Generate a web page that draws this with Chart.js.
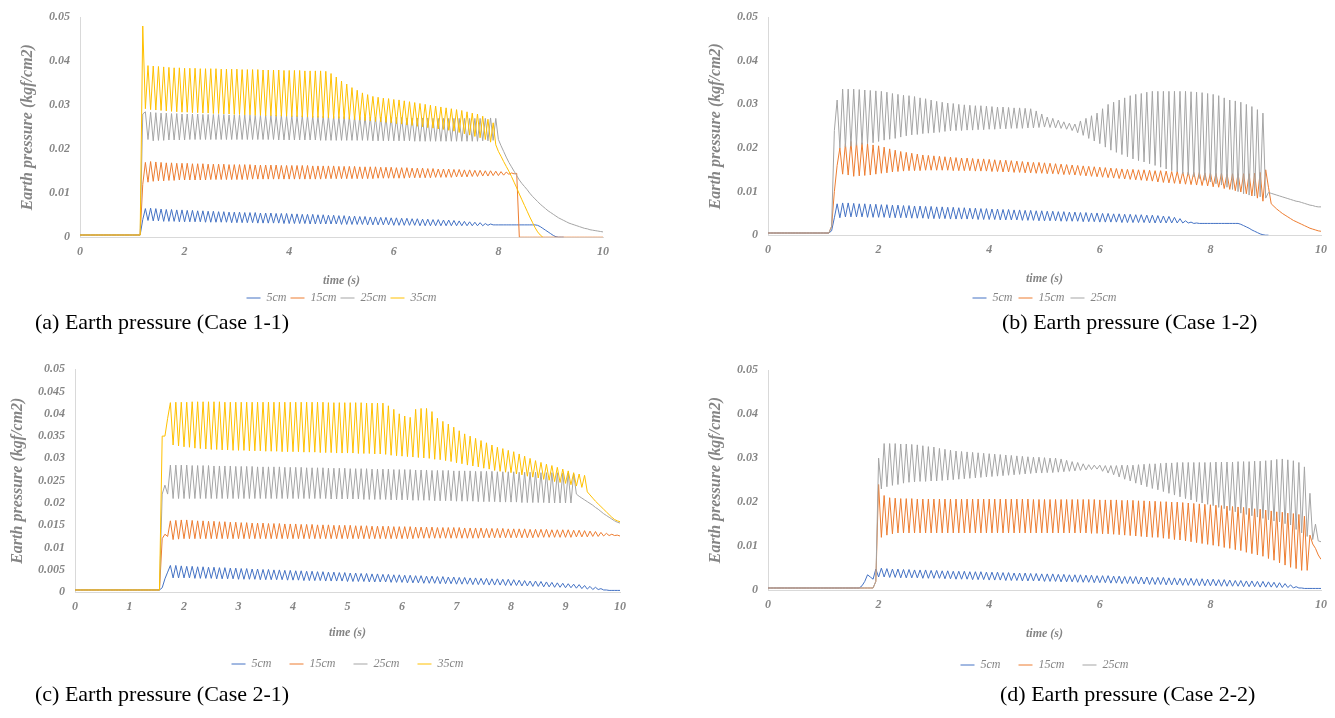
<!DOCTYPE html>
<html lang="en">
<head>
<meta charset="UTF-8">
<meta name="viewport" content="width=device-width, initial-scale=1.0">
<title>Earth pressure</title>
<script src="https://cdn.jsdelivr.net/npm/chart.js"></script>
<style>
  body { margin: 0; background: #fff; width: 1335px; height: 718px; position: relative; overflow: hidden; }
  .panel { position: absolute; }
  .caption { position: absolute; font-family: "Liberation Serif", "Times New Roman", serif; font-size: 22px; line-height: 26px; color: #000; white-space: nowrap; }
</style>
</head>
<body>

<div class="panel" style="left:0;top:0;width:650px;height:318px"><canvas id="case11"></canvas></div>
<div class="panel" style="left:690px;top:0;width:645px;height:318px"><canvas id="case12"></canvas></div>
<div class="panel" style="left:0;top:352px;width:650px;height:332px"><canvas id="case21"></canvas></div>
<div class="panel" style="left:690px;top:352px;width:645px;height:333px"><canvas id="case22"></canvas></div>

<div class="caption" style="left:35px;top:309px">(a) Earth pressure (Case 1-1)</div>
<div class="caption" style="left:1002px;top:309px">(b) Earth pressure (Case 1-2)</div>
<div class="caption" style="left:35px;top:681px">(c) Earth pressure (Case 2-1)</div>
<div class="caption" style="left:1000px;top:681px">(d) Earth pressure (Case 2-2)</div>

<script>
// sample times (s), shared by every record
const time = [
  0, 0.05, 0.1, 0.15, 0.2, 0.25, 0.3, 0.35, 0.4, 0.45,
  0.5, 0.55, 0.6, 0.65, 0.7, 0.75, 0.8, 0.85, 0.9, 0.95,
  1, 1.05, 1.1, 1.15, 1.2, 1.25, 1.3, 1.35, 1.4, 1.45,
  1.5, 1.55, 1.6, 1.65, 1.7, 1.75, 1.8, 1.85, 1.9, 1.95,
  2, 2.05, 2.1, 2.15, 2.2, 2.25, 2.3, 2.35, 2.4, 2.45,
  2.5, 2.55, 2.6, 2.65, 2.7, 2.75, 2.8, 2.85, 2.9, 2.95,
  3, 3.05, 3.1, 3.15, 3.2, 3.25, 3.3, 3.35, 3.4, 3.45,
  3.5, 3.55, 3.6, 3.65, 3.7, 3.75, 3.8, 3.85, 3.9, 3.95,
  4, 4.05, 4.1, 4.15, 4.2, 4.25, 4.3, 4.35, 4.4, 4.45,
  4.5, 4.55, 4.6, 4.65, 4.7, 4.75, 4.8, 4.85, 4.9, 4.95,
  5, 5.05, 5.1, 5.15, 5.2, 5.25, 5.3, 5.35, 5.4, 5.45,
  5.5, 5.55, 5.6, 5.65, 5.7, 5.75, 5.8, 5.85, 5.9, 5.95,
  6, 6.05, 6.1, 6.15, 6.2, 6.25, 6.3, 6.35, 6.4, 6.45,
  6.5, 6.55, 6.6, 6.65, 6.7, 6.75, 6.8, 6.85, 6.9, 6.95,
  7, 7.05, 7.1, 7.15, 7.2, 7.25, 7.3, 7.35, 7.4, 7.45,
  7.5, 7.55, 7.6, 7.65, 7.7, 7.75, 7.8, 7.85, 7.9, 7.95,
  8, 8.05, 8.1, 8.15, 8.2, 8.25, 8.3, 8.35, 8.4, 8.45,
  8.5, 8.55, 8.6, 8.65, 8.7, 8.75, 8.8, 8.85, 8.9, 8.95,
  9, 9.05, 9.1, 9.15, 9.2, 9.25, 9.3, 9.35, 9.4, 9.45,
  9.5, 9.55, 9.6, 9.65, 9.7, 9.75, 9.8, 9.85, 9.9, 9.95,
  10
];

// ---- Case 1-1 (kgf/cm2) ----
const case11_5cm = [
  0.0005, 0.0005, 0.0005, 0.0005, 0.0005, 0.0005, 0.0005, 0.0005, 0.0005, 0.0005,
  0.0005, 0.0005, 0.0005, 0.0005, 0.0005, 0.0005, 0.0005, 0.0005, 0.0005, 0.0005,
  0.0005, 0.0005, 0.0005, 0.0005, 0.004, 0.0065, 0.0038, 0.0066, 0.0037, 0.0065,
  0.0037, 0.0064, 0.0036, 0.0063, 0.0036, 0.0063, 0.0036, 0.0062, 0.0035, 0.0062,
  0.0035, 0.0061, 0.0035, 0.0061, 0.0035, 0.006, 0.0035, 0.006, 0.0034, 0.0059,
  0.0034, 0.0059, 0.0034, 0.0058, 0.0034, 0.0058, 0.0034, 0.0057, 0.0033, 0.0057,
  0.0033, 0.0057, 0.0033, 0.0056, 0.0033, 0.0056, 0.0033, 0.0056, 0.0032, 0.0055,
  0.0032, 0.0055, 0.0032, 0.0055, 0.0032, 0.0054, 0.0032, 0.0054, 0.0031, 0.0054,
  0.0031, 0.0053, 0.0031, 0.0053, 0.0031, 0.0052, 0.0031, 0.0052, 0.003, 0.0052,
  0.003, 0.0051, 0.003, 0.0051, 0.003, 0.005, 0.003, 0.005, 0.003, 0.0049,
  0.0029, 0.0049, 0.0029, 0.0048, 0.0029, 0.0048, 0.0029, 0.0047, 0.0029, 0.0047,
  0.0028, 0.0046, 0.0028, 0.0046, 0.0028, 0.0045, 0.0028, 0.0045, 0.0028, 0.0044,
  0.0027, 0.0044, 0.0027, 0.0043, 0.0027, 0.0043, 0.0027, 0.0042, 0.0027, 0.0042,
  0.0026, 0.0041, 0.0026, 0.0041, 0.0026, 0.004, 0.0026, 0.004, 0.0026, 0.0039,
  0.0026, 0.0039, 0.0026, 0.0038, 0.0026, 0.0037, 0.0026, 0.0036, 0.0026, 0.0035,
  0.0026, 0.0034, 0.0026, 0.0033, 0.0026, 0.0031, 0.0027, 0.003, 0.0028, 0.0028,
  0.0028, 0.0028, 0.0028, 0.0028, 0.0028, 0.0028, 0.0028, 0.0028, 0.0028, 0.0028,
  0.0028, 0.0028, 0.0028, 0.0028, 0.0028, 0.0027, 0.0024, 0.002, 0.0016, 0.0012,
  0.0008, 0.0004, 0.0001, 0, 0, 0, null, null, null, null,
  null, null, null, null, null, null, null, null, null, null,
  null
];
const case11_15cm = [
  0.0005, 0.0005, 0.0005, 0.0005, 0.0005, 0.0005, 0.0005, 0.0005, 0.0005, 0.0005,
  0.0005, 0.0005, 0.0005, 0.0005, 0.0005, 0.0005, 0.0005, 0.0005, 0.0005, 0.0005,
  0.0005, 0.0005, 0.0005, 0.0005, 0.012, 0.017, 0.0125, 0.0172, 0.0127, 0.0171,
  0.0128, 0.017, 0.0128, 0.0169, 0.0129, 0.0169, 0.0129, 0.0168, 0.013, 0.0168,
  0.013, 0.0168, 0.013, 0.0167, 0.013, 0.0167, 0.013, 0.0167, 0.013, 0.0166,
  0.0131, 0.0166, 0.0131, 0.0166, 0.0131, 0.0166, 0.0131, 0.0165, 0.0131, 0.0165,
  0.0131, 0.0165, 0.0131, 0.0165, 0.0131, 0.0165, 0.0132, 0.0164, 0.0132, 0.0164,
  0.0132, 0.0164, 0.0132, 0.0164, 0.0132, 0.0164, 0.0132, 0.0163, 0.0132, 0.0163,
  0.0132, 0.0163, 0.0132, 0.0163, 0.0132, 0.0163, 0.0132, 0.0163, 0.0132, 0.0162,
  0.0132, 0.0162, 0.0132, 0.0162, 0.0133, 0.0162, 0.0133, 0.0162, 0.0133, 0.0161,
  0.0133, 0.0161, 0.0133, 0.0161, 0.0133, 0.0161, 0.0133, 0.016, 0.0133, 0.016,
  0.0133, 0.016, 0.0133, 0.016, 0.0134, 0.0159, 0.0134, 0.0159, 0.0134, 0.0159,
  0.0134, 0.0158, 0.0134, 0.0158, 0.0134, 0.0158, 0.0135, 0.0157, 0.0135, 0.0157,
  0.0135, 0.0157, 0.0135, 0.0156, 0.0135, 0.0156, 0.0136, 0.0155, 0.0136, 0.0155,
  0.0136, 0.0155, 0.0136, 0.0154, 0.0137, 0.0154, 0.0137, 0.0153, 0.0137, 0.0153,
  0.0138, 0.0152, 0.0138, 0.0152, 0.0139, 0.0151, 0.0139, 0.0151, 0.014, 0.015,
  0.014, 0.0149, 0.0141, 0.0148, 0.0143, 0.0146, 0.0144, 0.0145, 0, 0,
  0, 0, 0, 0, 0, 0, 0, 0, 0, 0,
  0, 0, 0, 0, 0, 0, 0, 0, 0, 0,
  0, 0, 0, 0, 0, 0, 0, 0, 0, 0,
  0
];
const case11_25cm = [
  0.0005, 0.0005, 0.0005, 0.0005, 0.0005, 0.0005, 0.0005, 0.0005, 0.0005, 0.0005,
  0.0005, 0.0005, 0.0005, 0.0005, 0.0005, 0.0005, 0.0005, 0.0005, 0.0005, 0.0005,
  0.0005, 0.0005, 0.0005, 0.0005, 0.028, 0.0285, 0.0222, 0.0284, 0.0219, 0.0283,
  0.022, 0.0282, 0.022, 0.0282, 0.0221, 0.0281, 0.0221, 0.0281, 0.0221, 0.028,
  0.0221, 0.028, 0.0222, 0.028, 0.0222, 0.028, 0.0222, 0.0279, 0.0222, 0.0279,
  0.0222, 0.0279, 0.0222, 0.0279, 0.0222, 0.0279, 0.0222, 0.0278, 0.0222, 0.0278,
  0.0222, 0.0278, 0.0222, 0.0278, 0.0222, 0.0278, 0.0222, 0.0277, 0.0222, 0.0277,
  0.0222, 0.0277, 0.0222, 0.0277, 0.0222, 0.0277, 0.0221, 0.0277, 0.0221, 0.0276,
  0.0221, 0.0276, 0.0221, 0.0276, 0.0221, 0.0276, 0.0221, 0.0276, 0.0221, 0.0275,
  0.0221, 0.0275, 0.022, 0.0275, 0.022, 0.0275, 0.022, 0.0275, 0.022, 0.0274,
  0.022, 0.0274, 0.022, 0.0274, 0.022, 0.0274, 0.022, 0.0274, 0.022, 0.0273,
  0.022, 0.0273, 0.0219, 0.0273, 0.0219, 0.0273, 0.0219, 0.0272, 0.0219, 0.0272,
  0.0219, 0.0272, 0.0219, 0.0272, 0.0219, 0.0271, 0.0219, 0.0271, 0.0218, 0.0271,
  0.0218, 0.0271, 0.0218, 0.0271, 0.0218, 0.027, 0.0218, 0.027, 0.0218, 0.027,
  0.0218, 0.027, 0.0218, 0.027, 0.0218, 0.027, 0.0218, 0.027, 0.0218, 0.027,
  0.0218, 0.027, 0.0218, 0.027, 0.0219, 0.027, 0.0219, 0.0271, 0.022, 0.027,
  0.0222, 0.0208, 0.0195, 0.0182, 0.017, 0.016, 0.015, 0.014, 0.013, 0.0122,
  0.0115, 0.0108, 0.01, 0.0093, 0.0087, 0.0081, 0.0075, 0.007, 0.0065, 0.006,
  0.0056, 0.0052, 0.0048, 0.0044, 0.0041, 0.0038, 0.0035, 0.0032, 0.003, 0.0028,
  0.0026, 0.0024, 0.0022, 0.002, 0.0019, 0.0017, 0.0016, 0.0015, 0.0014, 0.0013,
  0.0012
];
const case11_35cm = [
  0.0005, 0.0005, 0.0005, 0.0005, 0.0005, 0.0005, 0.0005, 0.0005, 0.0005, 0.0005,
  0.0005, 0.0005, 0.0005, 0.0005, 0.0005, 0.0005, 0.0005, 0.0005, 0.0005, 0.0005,
  0.0005, 0.0005, 0.0005, 0.0005, 0.048, 0.0292, 0.039, 0.029, 0.0389, 0.0289,
  0.0388, 0.0288, 0.0387, 0.0287, 0.0386, 0.0286, 0.0385, 0.0285, 0.0385, 0.0284,
  0.0384, 0.0284, 0.0384, 0.0283, 0.0384, 0.0283, 0.0383, 0.0282, 0.0383, 0.0282,
  0.0383, 0.0281, 0.0383, 0.0281, 0.0382, 0.028, 0.0382, 0.028, 0.0382, 0.0279,
  0.0382, 0.0279, 0.0381, 0.0278, 0.0381, 0.0278, 0.0381, 0.0277, 0.0381, 0.0277,
  0.038, 0.0276, 0.038, 0.0276, 0.038, 0.0275, 0.038, 0.0275, 0.0379, 0.0275,
  0.0379, 0.0274, 0.0379, 0.0274, 0.0379, 0.0273, 0.0378, 0.0273, 0.0378, 0.0272,
  0.0378, 0.0272, 0.0378, 0.0271, 0.0377, 0.0271, 0.0372, 0.027, 0.0364, 0.027,
  0.0355, 0.0269, 0.0348, 0.0268, 0.034, 0.0267, 0.0334, 0.0266, 0.0328, 0.0265,
  0.0324, 0.0264, 0.032, 0.0263, 0.0318, 0.0262, 0.0316, 0.0261, 0.0315, 0.026,
  0.0313, 0.0258, 0.0312, 0.0257, 0.031, 0.0255, 0.0308, 0.0254, 0.0306, 0.0252,
  0.0304, 0.0251, 0.0302, 0.0249, 0.03, 0.0248, 0.0298, 0.0246, 0.0296, 0.0245,
  0.0294, 0.0243, 0.0292, 0.0241, 0.029, 0.0238, 0.0288, 0.0235, 0.0285, 0.0232,
  0.0282, 0.0229, 0.028, 0.0226, 0.0275, 0.0222, 0.0268, 0.0216, 0.026, 0.021,
  0.0195, 0.0184, 0.0172, 0.0161, 0.015, 0.0138, 0.0125, 0.0112, 0.0098, 0.0085,
  0.0072, 0.0059, 0.0046, 0.0034, 0.0022, 0.0012, 0.0005, 0, null, null,
  null, null, null, null, null, null, null, null, null, null,
  null, null, null, null, null, null, null, null, null, null,
  null
];

// ---- Case 1-2 ----
const case12_5cm = [
  0.0005, 0.0005, 0.0005, 0.0005, 0.0005, 0.0005, 0.0005, 0.0005, 0.0005, 0.0005,
  0.0005, 0.0005, 0.0005, 0.0005, 0.0005, 0.0005, 0.0005, 0.0005, 0.0005, 0.0005,
  0.0005, 0.0005, 0.0005, 0.001, 0.004, 0.0072, 0.004, 0.0074, 0.0042, 0.0074,
  0.0042, 0.0073, 0.0042, 0.0072, 0.0042, 0.0072, 0.0041, 0.0071, 0.0041, 0.0071,
  0.0041, 0.007, 0.0041, 0.007, 0.004, 0.0069, 0.004, 0.0069, 0.004, 0.0068,
  0.004, 0.0068, 0.0039, 0.0067, 0.0039, 0.0067, 0.0039, 0.0066, 0.0038, 0.0066,
  0.0038, 0.0065, 0.0038, 0.0065, 0.0038, 0.0064, 0.0037, 0.0064, 0.0037, 0.0063,
  0.0037, 0.0063, 0.0037, 0.0062, 0.0037, 0.0062, 0.0036, 0.0061, 0.0036, 0.0061,
  0.0036, 0.006, 0.0036, 0.006, 0.0035, 0.0059, 0.0035, 0.0059, 0.0035, 0.0058,
  0.0035, 0.0058, 0.0034, 0.0057, 0.0034, 0.0057, 0.0034, 0.0056, 0.0033, 0.0056,
  0.0033, 0.0055, 0.0033, 0.0055, 0.0033, 0.0054, 0.0032, 0.0054, 0.0032, 0.0053,
  0.0032, 0.0053, 0.0032, 0.0052, 0.0031, 0.0052, 0.0031, 0.0051, 0.0031, 0.0051,
  0.003, 0.005, 0.003, 0.005, 0.003, 0.0049, 0.003, 0.0049, 0.0029, 0.0048,
  0.0029, 0.0048, 0.0029, 0.0047, 0.0029, 0.0047, 0.0029, 0.0046, 0.0028, 0.0046,
  0.0028, 0.0045, 0.0028, 0.0044, 0.0028, 0.0043, 0.0028, 0.0041, 0.0028, 0.0038,
  0.0028, 0.0033, 0.0028, 0.003, 0.0027, 0.0028, 0.0027, 0.0027, 0.0027, 0.0027,
  0.0027, 0.0027, 0.0027, 0.0027, 0.0027, 0.0027, 0.0027, 0.0027, 0.0027, 0.0027,
  0.0027, 0.0025, 0.0022, 0.0019, 0.0016, 0.0012, 0.0009, 0.0006, 0.0003, 0.0001,
  0, 0, null, null, null, null, null, null, null, null,
  null, null, null, null, null, null, null, null, null, null,
  null
];
const case12_15cm = [
  0.0005, 0.0005, 0.0005, 0.0005, 0.0005, 0.0005, 0.0005, 0.0005, 0.0005, 0.0005,
  0.0005, 0.0005, 0.0005, 0.0005, 0.0005, 0.0005, 0.0005, 0.0005, 0.0005, 0.0005,
  0.0005, 0.0005, 0.0005, 0.002, 0.01, 0.016, 0.02, 0.014, 0.021, 0.0138,
  0.0215, 0.0135, 0.0214, 0.0136, 0.0212, 0.0137, 0.021, 0.0138, 0.0207, 0.014,
  0.0205, 0.0142, 0.0202, 0.0143, 0.0198, 0.0145, 0.0195, 0.0146, 0.0192, 0.0147,
  0.019, 0.0148, 0.0188, 0.0148, 0.0186, 0.0148, 0.0184, 0.0149, 0.0183, 0.0149,
  0.0182, 0.0149, 0.0181, 0.0149, 0.018, 0.0149, 0.0179, 0.0148, 0.0178, 0.0148,
  0.0177, 0.0148, 0.0177, 0.0148, 0.0176, 0.0147, 0.0175, 0.0147, 0.0175, 0.0147,
  0.0174, 0.0146, 0.0173, 0.0146, 0.0172, 0.0145, 0.0172, 0.0145, 0.0171, 0.0144,
  0.017, 0.0144, 0.0169, 0.0143, 0.0168, 0.0143, 0.0167, 0.0142, 0.0167, 0.0142,
  0.0166, 0.0141, 0.0165, 0.0141, 0.0164, 0.014, 0.0163, 0.0139, 0.0162, 0.0139,
  0.0161, 0.0138, 0.016, 0.0137, 0.0159, 0.0136, 0.0158, 0.0135, 0.0157, 0.0134,
  0.0156, 0.0133, 0.0155, 0.0132, 0.0154, 0.0131, 0.0153, 0.013, 0.0152, 0.0129,
  0.0151, 0.0128, 0.0151, 0.0127, 0.015, 0.0126, 0.015, 0.0125, 0.0149, 0.0124,
  0.0148, 0.0122, 0.0148, 0.0121, 0.0147, 0.012, 0.0146, 0.0119, 0.0146, 0.0118,
  0.0145, 0.0117, 0.0145, 0.0116, 0.0144, 0.0115, 0.0144, 0.0114, 0.0143, 0.0113,
  0.0143, 0.0111, 0.0142, 0.011, 0.0142, 0.0107, 0.0141, 0.0105, 0.0141, 0.0102,
  0.0141, 0.0099, 0.0141, 0.0095, 0.0141, 0.009, 0.0142, 0.0085, 0.0144, 0.0078,
  0.015, 0.011, 0.0072, 0.0066, 0.006, 0.0055, 0.005, 0.0046, 0.0042, 0.0038,
  0.0034, 0.0031, 0.0028, 0.0025, 0.0022, 0.0019, 0.0016, 0.0014, 0.0012, 0.001,
  0.0009
];
const case12_25cm = [
  0.0005, 0.0005, 0.0005, 0.0005, 0.0005, 0.0005, 0.0005, 0.0005, 0.0005, 0.0005,
  0.0005, 0.0005, 0.0005, 0.0005, 0.0005, 0.0005, 0.0005, 0.0005, 0.0005, 0.0005,
  0.0005, 0.0005, 0.0005, 0.002, 0.024, 0.031, 0.02, 0.0335, 0.0202, 0.0335,
  0.0204, 0.0335, 0.0206, 0.0334, 0.0208, 0.0333, 0.021, 0.0332, 0.0212, 0.0331,
  0.0215, 0.033, 0.0218, 0.0328, 0.022, 0.0325, 0.0222, 0.0323, 0.0225, 0.0321,
  0.0228, 0.032, 0.023, 0.0318, 0.0231, 0.0315, 0.0233, 0.0313, 0.0234, 0.031,
  0.0235, 0.0307, 0.0236, 0.0305, 0.0238, 0.0303, 0.0239, 0.0302, 0.024, 0.03,
  0.024, 0.0299, 0.0241, 0.0298, 0.0241, 0.0297, 0.0242, 0.0297, 0.0242, 0.0296,
  0.0243, 0.0295, 0.0243, 0.0294, 0.0244, 0.0294, 0.0244, 0.0293, 0.0245, 0.0292,
  0.0245, 0.0292, 0.0245, 0.0291, 0.0246, 0.029, 0.0246, 0.0285, 0.0247, 0.0278,
  0.0248, 0.0271, 0.0247, 0.0268, 0.0246, 0.0264, 0.0245, 0.026, 0.0243, 0.0257,
  0.024, 0.0255, 0.0235, 0.0262, 0.0229, 0.0268, 0.0222, 0.0274, 0.0216, 0.028,
  0.021, 0.029, 0.0202, 0.03, 0.0195, 0.0305, 0.019, 0.031, 0.0185, 0.0315,
  0.018, 0.032, 0.0175, 0.0323, 0.0171, 0.0325, 0.0168, 0.0328, 0.0164, 0.033,
  0.016, 0.033, 0.0156, 0.033, 0.0152, 0.033, 0.0148, 0.033, 0.0145, 0.033,
  0.0141, 0.033, 0.0138, 0.0329, 0.0134, 0.0328, 0.013, 0.0327, 0.0126, 0.0325,
  0.0122, 0.0323, 0.0118, 0.032, 0.0115, 0.0315, 0.011, 0.031, 0.0105, 0.0308,
  0.01, 0.0305, 0.0095, 0.03, 0.0092, 0.0295, 0.009, 0.0288, 0.0088, 0.028,
  0.0085, 0.0098, 0.0096, 0.0094, 0.0092, 0.009, 0.0088, 0.0086, 0.0084, 0.0082,
  0.008, 0.0078, 0.0077, 0.0075, 0.0073, 0.0071, 0.0069, 0.0068, 0.0066, 0.0065,
  0.0065
];

// ---- Case 2-1 ----
const case21_5cm = [
  0.0005, 0.0005, 0.0005, 0.0005, 0.0005, 0.0005, 0.0005, 0.0005, 0.0005, 0.0005,
  0.0005, 0.0005, 0.0005, 0.0005, 0.0005, 0.0005, 0.0005, 0.0005, 0.0005, 0.0005,
  0.0005, 0.0005, 0.0005, 0.0005, 0.0005, 0.0005, 0.0005, 0.0005, 0.0005, 0.0005,
  0.0005, 0.0005, 0.001, 0.003, 0.0045, 0.006, 0.0032, 0.006, 0.0032, 0.0059,
  0.0032, 0.0058, 0.0032, 0.0058, 0.0031, 0.0057, 0.0031, 0.0057, 0.0031, 0.0056,
  0.0031, 0.0056, 0.003, 0.0055, 0.003, 0.0055, 0.003, 0.0054, 0.003, 0.0054,
  0.0029, 0.0053, 0.0029, 0.0053, 0.0029, 0.0052, 0.0029, 0.0052, 0.0028, 0.0051,
  0.0028, 0.0051, 0.0028, 0.005, 0.0028, 0.005, 0.0028, 0.0049, 0.0027, 0.0049,
  0.0027, 0.0048, 0.0027, 0.0048, 0.0026, 0.0047, 0.0026, 0.0047, 0.0026, 0.0046,
  0.0026, 0.0046, 0.0025, 0.0045, 0.0025, 0.0045, 0.0025, 0.0044, 0.0025, 0.0044,
  0.0024, 0.0043, 0.0024, 0.0043, 0.0024, 0.0042, 0.0024, 0.0042, 0.0023, 0.0041,
  0.0023, 0.0041, 0.0023, 0.004, 0.0023, 0.004, 0.0022, 0.0039, 0.0022, 0.0039,
  0.0022, 0.0038, 0.0021, 0.0038, 0.0021, 0.0037, 0.0021, 0.0037, 0.002, 0.0036,
  0.002, 0.0036, 0.002, 0.0035, 0.0019, 0.0035, 0.0019, 0.0034, 0.0019, 0.0034,
  0.0018, 0.0033, 0.0018, 0.0033, 0.0018, 0.0032, 0.0017, 0.0032, 0.0017, 0.0031,
  0.0017, 0.0031, 0.0016, 0.003, 0.0016, 0.003, 0.0016, 0.0029, 0.0015, 0.0029,
  0.0015, 0.0028, 0.0015, 0.0027, 0.0014, 0.0026, 0.0014, 0.0025, 0.0013, 0.0025,
  0.0013, 0.0024, 0.0012, 0.0023, 0.0012, 0.0022, 0.0011, 0.0021, 0.0011, 0.002,
  0.001, 0.0019, 0.001, 0.0018, 0.0009, 0.0017, 0.0008, 0.0015, 0.0007, 0.0013,
  0.0006, 0.0011, 0.0006, 0.0008, 0.0005, 0.0005, 0.0004, 0.0004, 0.0004, 0.0004,
  0.0004
];
const case21_15cm = [
  0.0005, 0.0005, 0.0005, 0.0005, 0.0005, 0.0005, 0.0005, 0.0005, 0.0005, 0.0005,
  0.0005, 0.0005, 0.0005, 0.0005, 0.0005, 0.0005, 0.0005, 0.0005, 0.0005, 0.0005,
  0.0005, 0.0005, 0.0005, 0.0005, 0.0005, 0.0005, 0.0005, 0.0005, 0.0005, 0.0005,
  0.0005, 0.0005, 0.012, 0.013, 0.0125, 0.016, 0.0118, 0.0161, 0.0119, 0.0162,
  0.012, 0.0162, 0.012, 0.0161, 0.012, 0.016, 0.012, 0.016, 0.012, 0.0159,
  0.012, 0.0159, 0.012, 0.0158, 0.012, 0.0158, 0.012, 0.0157, 0.012, 0.0157,
  0.012, 0.0156, 0.012, 0.0156, 0.012, 0.0155, 0.012, 0.0155, 0.012, 0.0155,
  0.012, 0.0154, 0.012, 0.0154, 0.012, 0.0154, 0.012, 0.0153, 0.012, 0.0153,
  0.012, 0.0153, 0.012, 0.0152, 0.012, 0.0152, 0.012, 0.0152, 0.012, 0.0151,
  0.012, 0.0151, 0.012, 0.0151, 0.012, 0.015, 0.012, 0.015, 0.012, 0.015,
  0.012, 0.015, 0.012, 0.0149, 0.012, 0.0149, 0.012, 0.0149, 0.012, 0.0148,
  0.012, 0.0148, 0.012, 0.0148, 0.012, 0.0148, 0.012, 0.0147, 0.012, 0.0147,
  0.012, 0.0147, 0.012, 0.0147, 0.012, 0.0146, 0.0121, 0.0146, 0.0121, 0.0146,
  0.0121, 0.0146, 0.0121, 0.0145, 0.0121, 0.0145, 0.0121, 0.0145, 0.0121, 0.0145,
  0.0121, 0.0145, 0.0121, 0.0144, 0.0121, 0.0144, 0.0121, 0.0144, 0.0121, 0.0144,
  0.0122, 0.0143, 0.0122, 0.0143, 0.0122, 0.0143, 0.0122, 0.0143, 0.0122, 0.0142,
  0.0122, 0.0142, 0.0122, 0.0142, 0.0122, 0.0142, 0.0122, 0.0141, 0.0122, 0.0141,
  0.0123, 0.0141, 0.0123, 0.0141, 0.0123, 0.014, 0.0123, 0.014, 0.0123, 0.014,
  0.0123, 0.014, 0.0123, 0.0139, 0.0124, 0.0139, 0.0124, 0.0138, 0.0124, 0.0137,
  0.0125, 0.0136, 0.0125, 0.0134, 0.0126, 0.0132, 0.0127, 0.013, 0.0127, 0.0128,
  0.0126
];
const case21_25cm = [
  0.0005, 0.0005, 0.0005, 0.0005, 0.0005, 0.0005, 0.0005, 0.0005, 0.0005, 0.0005,
  0.0005, 0.0005, 0.0005, 0.0005, 0.0005, 0.0005, 0.0005, 0.0005, 0.0005, 0.0005,
  0.0005, 0.0005, 0.0005, 0.0005, 0.0005, 0.0005, 0.0005, 0.0005, 0.0005, 0.0005,
  0.0005, 0.0005, 0.022, 0.024, 0.022, 0.0285, 0.021, 0.0285, 0.021, 0.0285,
  0.021, 0.0285, 0.021, 0.0284, 0.021, 0.0284, 0.021, 0.0284, 0.021, 0.0284,
  0.021, 0.0283, 0.021, 0.0283, 0.021, 0.0283, 0.021, 0.0283, 0.021, 0.0282,
  0.021, 0.0282, 0.021, 0.0282, 0.021, 0.0282, 0.021, 0.0281, 0.021, 0.0281,
  0.021, 0.0281, 0.021, 0.0281, 0.021, 0.0281, 0.021, 0.028, 0.021, 0.028,
  0.021, 0.028, 0.021, 0.028, 0.021, 0.0279, 0.021, 0.0279, 0.021, 0.0279,
  0.021, 0.0279, 0.021, 0.0278, 0.0209, 0.0278, 0.0209, 0.0278, 0.0209, 0.0278,
  0.0209, 0.0277, 0.0209, 0.0277, 0.0209, 0.0277, 0.0208, 0.0277, 0.0208, 0.0276,
  0.0208, 0.0276, 0.0208, 0.0276, 0.0208, 0.0276, 0.0207, 0.0275, 0.0207, 0.0275,
  0.0207, 0.0275, 0.0207, 0.0275, 0.0206, 0.0274, 0.0206, 0.0274, 0.0206, 0.0274,
  0.0206, 0.0273, 0.0205, 0.0273, 0.0205, 0.0273, 0.0205, 0.0273, 0.0205, 0.0272,
  0.0204, 0.0272, 0.0204, 0.0272, 0.0204, 0.0272, 0.0204, 0.0271, 0.0203, 0.0271,
  0.0203, 0.0271, 0.0203, 0.0271, 0.0203, 0.027, 0.0202, 0.027, 0.0202, 0.027,
  0.0202, 0.027, 0.0202, 0.0269, 0.0201, 0.0269, 0.0201, 0.0269, 0.0201, 0.0269,
  0.0201, 0.0268, 0.0201, 0.0268, 0.02, 0.0268, 0.02, 0.0268, 0.02, 0.0267,
  0.02, 0.0267, 0.02, 0.0265, 0.022, 0.0215, 0.0211, 0.0207, 0.0203, 0.0199,
  0.0195, 0.019, 0.0186, 0.0181, 0.0176, 0.0172, 0.0168, 0.0164, 0.016, 0.0157,
  0.0155
];
const case21_35cm = [
  0.0005, 0.0005, 0.0005, 0.0005, 0.0005, 0.0005, 0.0005, 0.0005, 0.0005, 0.0005,
  0.0005, 0.0005, 0.0005, 0.0005, 0.0005, 0.0005, 0.0005, 0.0005, 0.0005, 0.0005,
  0.0005, 0.0005, 0.0005, 0.0005, 0.0005, 0.0005, 0.0005, 0.0005, 0.0005, 0.0005,
  0.0005, 0.0005, 0.035, 0.035, 0.039, 0.0425, 0.033, 0.0426, 0.0328, 0.0426,
  0.0326, 0.0426, 0.0325, 0.0427, 0.0323, 0.0427, 0.0322, 0.0427, 0.0321, 0.0427,
  0.032, 0.0427, 0.032, 0.0427, 0.0319, 0.0426, 0.0319, 0.0426, 0.0318, 0.0426,
  0.0318, 0.0426, 0.0318, 0.0426, 0.0317, 0.0426, 0.0317, 0.0426, 0.0317, 0.0426,
  0.0316, 0.0426, 0.0316, 0.0426, 0.0316, 0.0426, 0.0315, 0.0426, 0.0315, 0.0426,
  0.0315, 0.0426, 0.0315, 0.0426, 0.0314, 0.0426, 0.0314, 0.0426, 0.0314, 0.0426,
  0.0313, 0.0426, 0.0313, 0.0425, 0.0313, 0.0425, 0.0312, 0.0425, 0.0312, 0.0425,
  0.0312, 0.0425, 0.0312, 0.0425, 0.0311, 0.0425, 0.0311, 0.0424, 0.0311, 0.0424,
  0.031, 0.0424, 0.031, 0.0424, 0.0309, 0.0418, 0.0307, 0.041, 0.0306, 0.04,
  0.0305, 0.0395, 0.0304, 0.0392, 0.0303, 0.041, 0.0302, 0.0412, 0.0301, 0.0412,
  0.03, 0.0405, 0.0298, 0.039, 0.0297, 0.0383, 0.0295, 0.0377, 0.0293, 0.037,
  0.029, 0.0362, 0.0288, 0.0355, 0.0285, 0.035, 0.0283, 0.0345, 0.0281, 0.034,
  0.0278, 0.0335, 0.0276, 0.033, 0.0273, 0.0325, 0.0271, 0.0322, 0.0269, 0.0318,
  0.0268, 0.0315, 0.0265, 0.031, 0.0263, 0.0305, 0.026, 0.03, 0.0258, 0.0295,
  0.0256, 0.0291, 0.0253, 0.0287, 0.0251, 0.0284, 0.0248, 0.028, 0.0246, 0.0276,
  0.0244, 0.0272, 0.0241, 0.0268, 0.0238, 0.0265, 0.0235, 0.0262, 0.0225, 0.0218,
  0.0211, 0.0204, 0.0198, 0.0192, 0.0186, 0.018, 0.0174, 0.0168, 0.0163, 0.016,
  0.0158
];

// ---- Case 2-2 ----
const case22_5cm = [
  0.0005, 0.0005, 0.0005, 0.0005, 0.0005, 0.0005, 0.0005, 0.0005, 0.0005, 0.0005,
  0.0005, 0.0005, 0.0005, 0.0005, 0.0005, 0.0005, 0.0005, 0.0005, 0.0005, 0.0005,
  0.0005, 0.0005, 0.0005, 0.0005, 0.0005, 0.0005, 0.0005, 0.0005, 0.0005, 0.0005,
  0.0005, 0.0005, 0.0005, 0.0005, 0.001, 0.002, 0.0035, 0.003, 0.0025, 0.0048,
  0.003, 0.005, 0.003, 0.0049, 0.0029, 0.0048, 0.0029, 0.0048, 0.0028, 0.0047,
  0.0028, 0.0047, 0.0028, 0.0046, 0.0028, 0.0046, 0.0027, 0.0046, 0.0027, 0.0045,
  0.0027, 0.0045, 0.0027, 0.0044, 0.0026, 0.0044, 0.0026, 0.0043, 0.0025, 0.0043,
  0.0025, 0.0043, 0.0025, 0.0042, 0.0024, 0.0042, 0.0024, 0.0042, 0.0024, 0.0041,
  0.0023, 0.0041, 0.0023, 0.0041, 0.0023, 0.004, 0.0022, 0.004, 0.0022, 0.0039,
  0.0022, 0.0039, 0.0021, 0.0039, 0.0021, 0.0038, 0.0021, 0.0038, 0.0021, 0.0037,
  0.002, 0.0037, 0.002, 0.0037, 0.002, 0.0036, 0.0019, 0.0036, 0.0019, 0.0035,
  0.0019, 0.0035, 0.0018, 0.0035, 0.0018, 0.0034, 0.0018, 0.0034, 0.0017, 0.0033,
  0.0017, 0.0033, 0.0017, 0.0033, 0.0016, 0.0032, 0.0016, 0.0032, 0.0015, 0.0031,
  0.0015, 0.0031, 0.0015, 0.0031, 0.0014, 0.003, 0.0014, 0.003, 0.0013, 0.0029,
  0.0013, 0.0029, 0.0013, 0.0029, 0.0012, 0.0028, 0.0012, 0.0028, 0.0012, 0.0027,
  0.0011, 0.0027, 0.0011, 0.0027, 0.0011, 0.0026, 0.001, 0.0026, 0.001, 0.0025,
  0.001, 0.0025, 0.001, 0.0024, 0.0009, 0.0024, 0.0009, 0.0023, 0.0009, 0.0022,
  0.0009, 0.0022, 0.0008, 0.0021, 0.0008, 0.0021, 0.0008, 0.002, 0.0007, 0.002,
  0.0007, 0.0019, 0.0007, 0.0018, 0.0006, 0.0017, 0.0006, 0.0015, 0.0006, 0.0012,
  0.0005, 0.0008, 0.0005, 0.0005, 0.0004, 0.0004, 0.0004, 0.0004, 0.0004, 0.0004,
  0.0004
];
const case22_15cm = [
  0.0005, 0.0005, 0.0005, 0.0005, 0.0005, 0.0005, 0.0005, 0.0005, 0.0005, 0.0005,
  0.0005, 0.0005, 0.0005, 0.0005, 0.0005, 0.0005, 0.0005, 0.0005, 0.0005, 0.0005,
  0.0005, 0.0005, 0.0005, 0.0005, 0.0005, 0.0005, 0.0005, 0.0005, 0.0005, 0.0005,
  0.0005, 0.0005, 0.0005, 0.0005, 0.0005, 0.0005, 0.0005, 0.0005, 0.0005, 0.002,
  0.024, 0.012, 0.0215, 0.0125, 0.021, 0.0128, 0.0209, 0.013, 0.0208, 0.013,
  0.0208, 0.013, 0.0208, 0.013, 0.0207, 0.013, 0.0207, 0.013, 0.0207, 0.013,
  0.0207, 0.013, 0.0207, 0.013, 0.0207, 0.013, 0.0207, 0.013, 0.0207, 0.013,
  0.0207, 0.013, 0.0207, 0.013, 0.0207, 0.013, 0.0207, 0.013, 0.0207, 0.013,
  0.0207, 0.013, 0.0207, 0.013, 0.0207, 0.013, 0.0207, 0.013, 0.0207, 0.013,
  0.0207, 0.013, 0.0207, 0.013, 0.0207, 0.013, 0.0206, 0.013, 0.0206, 0.013,
  0.0206, 0.013, 0.0206, 0.013, 0.0206, 0.013, 0.0206, 0.013, 0.0206, 0.013,
  0.0206, 0.013, 0.0206, 0.013, 0.0206, 0.013, 0.0206, 0.0129, 0.0206, 0.0129,
  0.0205, 0.0128, 0.0205, 0.0128, 0.0205, 0.0127, 0.0205, 0.0126, 0.0204, 0.0125,
  0.0204, 0.0124, 0.0204, 0.0123, 0.0203, 0.0122, 0.0203, 0.0121, 0.0202, 0.012,
  0.0202, 0.012, 0.0201, 0.0118, 0.0201, 0.0117, 0.02, 0.0115, 0.02, 0.0114,
  0.0199, 0.0112, 0.0198, 0.011, 0.0197, 0.0108, 0.0196, 0.0106, 0.0195, 0.0104,
  0.0194, 0.0102, 0.0193, 0.01, 0.0192, 0.0097, 0.0191, 0.0095, 0.019, 0.0092,
  0.0189, 0.009, 0.0188, 0.0086, 0.0186, 0.0083, 0.0185, 0.008, 0.0184, 0.0077,
  0.0182, 0.0072, 0.018, 0.0068, 0.0178, 0.0062, 0.0177, 0.0057, 0.0175, 0.0052,
  0.0174, 0.0049, 0.0172, 0.0045, 0.0168, 0.0045, 0.0125, 0.0105, 0.0095, 0.008,
  0.007
];
const case22_25cm = [
  0.0005, 0.0005, 0.0005, 0.0005, 0.0005, 0.0005, 0.0005, 0.0005, 0.0005, 0.0005,
  0.0005, 0.0005, 0.0005, 0.0005, 0.0005, 0.0005, 0.0005, 0.0005, 0.0005, 0.0005,
  0.0005, 0.0005, 0.0005, 0.0005, 0.0005, 0.0005, 0.0005, 0.0005, 0.0005, 0.0005,
  0.0005, 0.0005, 0.0005, 0.0005, 0.0005, 0.0005, 0.0005, 0.0005, 0.0005, 0.002,
  0.03, 0.023, 0.0333, 0.0235, 0.0333, 0.0238, 0.0333, 0.024, 0.0332, 0.0243,
  0.0332, 0.0245, 0.0331, 0.0246, 0.033, 0.0247, 0.0328, 0.0247, 0.0326, 0.0248,
  0.0325, 0.0248, 0.0322, 0.0249, 0.032, 0.025, 0.0318, 0.0251, 0.0316, 0.0252,
  0.0315, 0.0253, 0.0314, 0.0254, 0.0313, 0.0255, 0.0312, 0.0256, 0.0311, 0.0257,
  0.031, 0.0258, 0.0309, 0.0259, 0.0308, 0.026, 0.0307, 0.0261, 0.0306, 0.0262,
  0.0305, 0.0263, 0.0304, 0.0264, 0.0303, 0.0265, 0.0302, 0.0266, 0.0302, 0.0266,
  0.0301, 0.0267, 0.03, 0.0267, 0.03, 0.0268, 0.0298, 0.0269, 0.0295, 0.027,
  0.0292, 0.0271, 0.029, 0.0272, 0.0287, 0.0273, 0.0285, 0.0274, 0.0284, 0.0275,
  0.0284, 0.027, 0.0283, 0.0266, 0.0283, 0.0262, 0.0283, 0.0257, 0.0284, 0.0252,
  0.0284, 0.0248, 0.0284, 0.0243, 0.0285, 0.0239, 0.0286, 0.0235, 0.0287, 0.0231,
  0.0287, 0.0228, 0.0288, 0.0224, 0.0289, 0.022, 0.0289, 0.0216, 0.029, 0.0212,
  0.029, 0.0208, 0.029, 0.0205, 0.029, 0.0201, 0.029, 0.0198, 0.029, 0.0195,
  0.029, 0.0192, 0.0291, 0.0188, 0.0291, 0.0185, 0.0291, 0.0181, 0.0291, 0.0178,
  0.0292, 0.0175, 0.0292, 0.0172, 0.0292, 0.0169, 0.0293, 0.0166, 0.0293, 0.0163,
  0.0294, 0.016, 0.0295, 0.0157, 0.0297, 0.0155, 0.0298, 0.0151, 0.0296, 0.0148,
  0.0294, 0.0138, 0.029, 0.013, 0.028, 0.0122, 0.022, 0.0115, 0.015, 0.0112,
  0.011
];

const seriesColors = {
  '5cm': '#4472C4',
  '15cm': '#ED7D31',
  '25cm': '#A5A5A5',
  '35cm': '#FFC000'
};

const serif = '"Liberation Serif", "Times New Roman", serif';
const grey = '#858585';

function fmt(v) {
  return String(+v.toFixed(3));
}

function drawPanel(id, series, opts) {
  const datasets = series.map(([label, vals], i) => ({
    label: label,
    data: vals.map((v, k) => ({ x: time[k], y: v })),
    borderColor: seriesColors[label],
    backgroundColor: seriesColors[label],
    borderWidth: 1,
    pointRadius: 0,
    tension: 0,
    fill: false,
    spanGaps: false,
    // later records are painted over earlier ones
    order: series.length - i
  }));

  new Chart(document.getElementById(id), {
    type: 'line',
    data: { datasets: datasets },
    options: {
      responsive: true,
      maintainAspectRatio: false,
      animation: false,
      devicePixelRatio: 1,
      layout: { padding: opts.padding },
      plugins: {
        tooltip: { enabled: false },
        legend: {
          position: 'bottom',
          fullSize: false,
          labels: {
            usePointStyle: true,
            pointStyle: 'line',
            pointStyleWidth: 14,
            boxHeight: 8,
            padding: opts.legendPad,
            color: grey,
            font: { family: serif, style: 'italic', size: 12 },
            sort: (a, b) => a.datasetIndex - b.datasetIndex
          }
        }
      },
      scales: {
        x: {
          type: 'linear',
          min: 0,
          max: 10,
          grid: { display: false, drawTicks: false },
          border: { display: true, color: '#d9d9d9' },
          ticks: {
            stepSize: opts.xStep,
            padding: 8,
            color: grey,
            maxRotation: 0,
            font: { family: serif, style: 'italic', weight: 'bold', size: 12 },
            callback: fmt
          },
          title: {
            display: true,
            text: 'time (s)',
            color: grey,
            padding: { top: opts.xTitlePad, bottom: 0 },
            font: { family: serif, style: 'italic', weight: 'bold', size: 12 }
          }
        },
        y: {
          min: 0,
          max: 0.05,
          grid: { display: false, drawTicks: false },
          border: { display: true, color: '#d9d9d9' },
          afterFit: s => { s.width = opts.yWidth; },
          ticks: {
            stepSize: opts.yStep,
            padding: 10,
            color: grey,
            font: { family: serif, style: 'italic', weight: 'bold', size: 12 },
            callback: fmt
          },
          title: {
            display: true,
            text: 'Earth pressure (kgf/cm2)',
            color: grey,
            padding: { top: 0, bottom: 0 },
            font: { family: serif, style: 'italic', weight: 'bold', size: 16 }
          }
        }
      }
    }
  });
}

drawPanel('case11', [
  ['5cm', case11_5cm], ['15cm', case11_15cm], ['25cm', case11_25cm], ['35cm', case11_35cm]
], { xStep: 2, yStep: 0.01, yWidth: 62, legendPad: 4, xTitlePad: 6,
     padding: { left: 18, right: 47, top: 10, bottom: 4 } });

drawPanel('case12', [
  ['5cm', case12_5cm], ['15cm', case12_15cm], ['25cm', case12_25cm]
], { xStep: 2, yStep: 0.01, yWidth: 62, legendPad: 6, xTitlePad: 6,
     padding: { left: 16, right: 12, top: 10, bottom: 4 } });

drawPanel('case21', [
  ['5cm', case21_5cm], ['15cm', case21_15cm], ['25cm', case21_25cm], ['35cm', case21_35cm]
], { xStep: 1, yStep: 0.005, yWidth: 67, legendPad: 18, xTitlePad: 3,
     padding: { left: 8, right: 30, top: 7, bottom: 4 } });

drawPanel('case22', [
  ['5cm', case22_5cm], ['15cm', case22_15cm], ['25cm', case22_25cm]
], { xStep: 2, yStep: 0.01, yWidth: 62, legendPad: 18, xTitlePad: 6,
     padding: { left: 16, right: 12, top: 18, bottom: 4 } });
</script>

</body>
</html>
